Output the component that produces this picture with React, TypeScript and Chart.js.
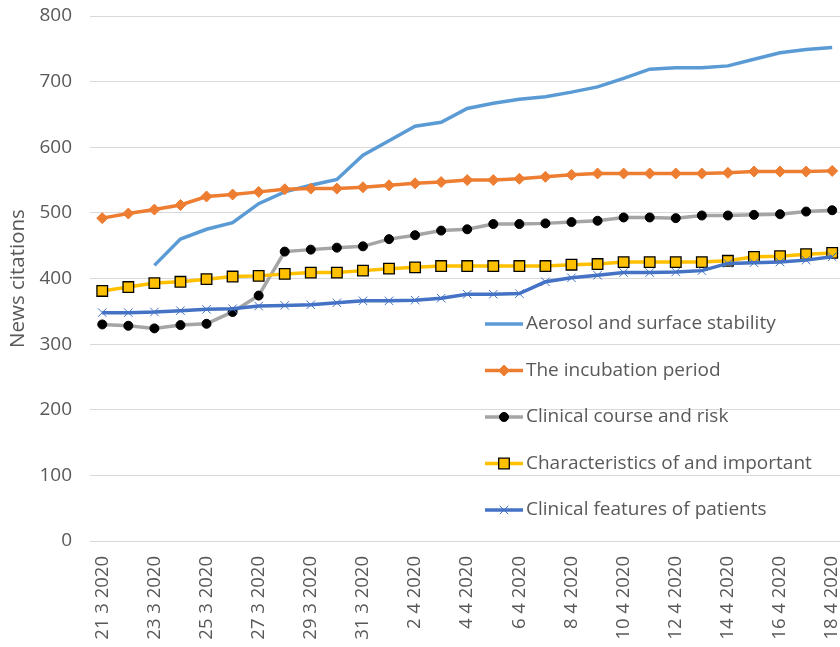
import React, { useEffect, useRef } from 'react';
import { Chart, registerables } from 'chart.js';

Chart.register(...registerables);

const dates = [
  '21 3 2020', '22 3 2020', '23 3 2020', '24 3 2020', '25 3 2020', '26 3 2020', '27 3 2020',
  '28 3 2020', '29 3 2020', '30 3 2020', '31 3 2020', '1 4 2020', '2 4 2020', '3 4 2020',
  '4 4 2020', '5 4 2020', '6 4 2020', '7 4 2020', '8 4 2020', '9 4 2020', '10 4 2020',
  '11 4 2020', '12 4 2020', '13 4 2020', '14 4 2020', '15 4 2020', '16 4 2020', '17 4 2020',
  '18 4 2020',
];

const aerosol = [null, null, 420, 460, 475, 485, 514, 532, 542, 551, 588, 610, 632, 638, 659, 667, 673, 677, 684, 692, 705, 719, 721, 721, 724, 734, 744, 749, 752];
const incubation = [492, 499, 505, 512, 525, 528, 532, 536, 537, 537, 539, 542, 545, 547, 550, 550, 552, 555, 558, 560, 560, 560, 560, 560, 561, 563, 563, 563, 564];
const clinicalCourse = [330, 328, 324, 329, 331, 349, 374, 441, 444, 447, 449, 460, 466, 473, 475, 483, 483, 484, 486, 488, 493, 493, 492, 496, 496, 497, 498, 502, 504];
const characteristics = [381, 387, 393, 395, 399, 403, 404, 407, 409, 409, 412, 415, 417, 419, 419, 419, 419, 419, 421, 422, 425, 425, 425, 425, 427, 433, 434, 437, 439];
const clinicalFeatures = [348, 348, 349, 351, 353, 354, 358, 359, 360, 363, 366, 366, 367, 370, 376, 376, 377, 395, 401, 405, 409, 409, 410, 412, 423, 424, 425, 428, 433];

const seriesNames = [
  'Aerosol and surface stability',
  'The incubation period',
  'Clinical course and risk',
  'Characteristics of and important',
  'Clinical features of patients',
];

const yTicks = [0, 100, 200, 300, 400, 500, 600, 700, 800];
const xLabelIndices = [0, 2, 4, 6, 8, 10, 12, 14, 16, 18, 20, 22, 24, 26, 28];

const FONT = "'Open Sans', sans-serif";
const TEXT = '#595959';

const toPoints = (arr: (number | null)[]) => arr.map((v, i) => ({ x: i, y: v }));

function drawMarker(ctx: CanvasRenderingContext2D, ds: any, x: number, y: number) {
  const style = ds.pointStyle;
  const r = ds.pointRadius;
  if (!r || style === false) return;
  ctx.save();
  ctx.fillStyle = ds.pointBackgroundColor;
  ctx.strokeStyle = ds.pointBorderColor;
  ctx.lineWidth = ds.pointBorderWidth;
  ctx.beginPath();
  if (style === 'circle') {
    ctx.arc(x, y, r, 0, Math.PI * 2);
    ctx.fill();
    ctx.stroke();
  } else if (style === 'rect') {
    const s = Math.SQRT1_2 * r;
    ctx.rect(x - s, y - s, 2 * s, 2 * s);
    ctx.fill();
    ctx.stroke();
  } else if (style === 'rectRot') {
    ctx.moveTo(x, y - r);
    ctx.lineTo(x + r, y);
    ctx.lineTo(x, y + r);
    ctx.lineTo(x - r, y);
    ctx.closePath();
    ctx.fill();
    ctx.stroke();
  } else if (style === 'crossRot') {
    const s = Math.SQRT1_2 * r;
    ctx.moveTo(x - s, y - s);
    ctx.lineTo(x + s, y + s);
    ctx.moveTo(x + s, y - s);
    ctx.lineTo(x - s, y + s);
    ctx.stroke();
  }
  ctx.restore();
}

const legendPlugin = {
  id: 'customLegend',
  afterDatasetsDraw(chart: any, _args: any, opts: any) {
    const ctx = chart.ctx as CanvasRenderingContext2D;
    const datasets = chart.data.datasets;
    ctx.save();
    datasets.forEach((ds: any, i: number) => {
      const y = opts.top + i * opts.spacing;
      ctx.strokeStyle = ds.borderColor;
      ctx.lineWidth = ds.borderWidth;
      ctx.lineCap = 'butt';
      ctx.beginPath();
      ctx.moveTo(opts.lineStart, y);
      ctx.lineTo(opts.lineEnd, y);
      ctx.stroke();
      drawMarker(ctx, ds, (opts.lineStart + opts.lineEnd) / 2, y);
      ctx.fillStyle = TEXT;
      ctx.font = `${opts.fontSize}px ${FONT}`;
      ctx.textBaseline = 'middle';
      ctx.textAlign = 'left';
      ctx.fillText(ds.label, opts.textX, y);
    });
    ctx.restore();
  },
};

export default function App() {
  const ref = useRef<HTMLCanvasElement | null>(null);

  useEffect(() => {
    if (!ref.current) return;
    const common = { fill: false, tension: 0, spanGaps: false };
    const chart = new Chart(ref.current, {
      type: 'line',
      data: {
        datasets: [
          {
            ...common,
            label: seriesNames[0],
            data: toPoints(aerosol),
            borderColor: '#5B9BD5',
            backgroundColor: '#5B9BD5',
            borderWidth: 3.5,
            pointRadius: 0,
            pointStyle: false as any,
            order: 5,
          },
          {
            ...common,
            label: seriesNames[1],
            data: toPoints(incubation),
            borderColor: '#ED7D31',
            backgroundColor: '#ED7D31',
            borderWidth: 3.5,
            pointStyle: 'rectRot',
            pointRadius: 5.5,
            pointBackgroundColor: '#ED7D31',
            pointBorderColor: '#ED7D31',
            pointBorderWidth: 1,
            order: 4,
          },
          {
            ...common,
            label: seriesNames[2],
            data: toPoints(clinicalCourse),
            borderColor: '#A5A5A5',
            backgroundColor: '#A5A5A5',
            borderWidth: 3.5,
            pointStyle: 'circle',
            pointRadius: 4.5,
            pointBackgroundColor: '#000000',
            pointBorderColor: '#000000',
            pointBorderWidth: 1,
            order: 3,
          },
          {
            ...common,
            label: seriesNames[3],
            data: toPoints(characteristics),
            borderColor: '#FFC000',
            backgroundColor: '#FFC000',
            borderWidth: 3.5,
            pointStyle: 'rect',
            pointRadius: 7.5,
            pointBackgroundColor: '#FFC000',
            pointBorderColor: '#000000',
            pointBorderWidth: 1.3,
            order: 2,
          },
          {
            ...common,
            label: seriesNames[4],
            data: toPoints(clinicalFeatures),
            borderColor: '#4472C4',
            backgroundColor: '#4472C4',
            borderWidth: 3.5,
            pointStyle: 'crossRot',
            pointRadius: 6,
            pointBackgroundColor: '#4472C4',
            pointBorderColor: '#4472C4',
            pointBorderWidth: 1,
            order: 1,
          },
        ] as any,
      },
      options: {
        animation: false,
        responsive: false,
        devicePixelRatio: 1,
        layout: { autoPadding: false, padding: { top: 16, left: 0, right: 0, bottom: 0 } },
        plugins: {
          legend: { display: false },
          tooltip: { enabled: false },
          customLegend: {
            top: 324,
            spacing: 46.5,
            lineStart: 485,
            lineEnd: 523,
            textX: 526,
            fontSize: 19,
          },
        } as any,
        scales: {
          x: {
            type: 'linear',
            min: -0.47,
            max: 28.3,
            grid: { display: false, drawTicks: false },
            border: { display: false },
            afterBuildTicks: (scale: any) => {
              scale.ticks = xLabelIndices.map((v) => ({ value: v }));
            },
            afterFit: (scale: any) => {
              scale.height = 106;
              scale.paddingLeft = 0;
              scale.paddingRight = 0;
              scale.paddingTop = 0;
              scale.paddingBottom = 0;
            },
            ticks: {
              autoSkip: false,
              maxRotation: 90,
              minRotation: 90,
              padding: 15,
              color: TEXT,
              font: { family: FONT, size: 18.5 },
              callback: (v: any) => dates[v as number] ?? '',
            },
          },
          y: {
            type: 'linear',
            min: 0,
            max: 800,
            afterBuildTicks: (scale: any) => {
              scale.ticks = yTicks.map((v) => ({ value: v }));
            },
            afterFit: (scale: any) => {
              scale.width = 90;
              scale.paddingTop = 0;
              scale.paddingBottom = 0;
              scale.paddingLeft = 0;
              scale.paddingRight = 0;
            },
            grid: { color: '#D9D9D9', lineWidth: 1, drawTicks: false },
            border: { display: false },
            ticks: {
              padding: 18,
              color: TEXT,
              font: { family: FONT, size: 19 },
            },
            title: {
              display: true,
              text: 'News citations',
              color: TEXT,
              font: { family: FONT, size: 20.5 },
              padding: { top: 5.5, bottom: 0 },
            },
          },
        },
      },
      plugins: [legendPlugin],
    });
    return () => chart.destroy();
  }, []);

  return (
    <div style={{ position: 'absolute', left: 0, top: 0, width: 840, height: 647, background: '#fff' }}>
      <canvas ref={ref} width={840} height={647} style={{ display: 'block' }} />
    </div>
  );
}
